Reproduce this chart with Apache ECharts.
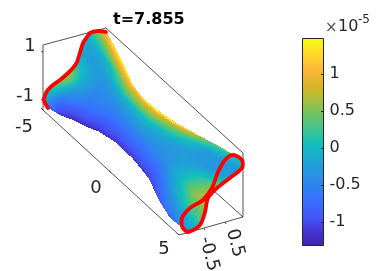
<!DOCTYPE html>
<html><head><meta charset="utf-8">
<style>html,body{margin:0;padding:0;background:#fff}#c{width:388px;height:271px}</style>
<script src="https://cdn.jsdelivr.net/npm/echarts@6/dist/echarts.min.js"></script>
</head><body><div id="c"></div>
<script>
// ---------- data (projected view coordinates) ----------
const titleText = 't=7.855';
const lowerEdge = [[48,108],[60,115],[73,120],[87,127],[100,132],[117,142],[133,157],[147,175],[160,202],[170,218],[182,227]];
const upperEdge = [[106,32],[115,47],[123,63],[133,85],[143,100],[157,112],[173,123],[197,135],[217,145],[233,155]];
const leftCurve = [[48,108],[45,103],[44,99],[47,91],[53,85],[60,80],[67,74],[73,68],[77,62],[79,56],[83,43],[87,37],[90,33],[98,31],[106,32]];
const rightCurve = [[182,227],[188,232],[200,225],[205,212],[208,198],[217,188],[230,178],[242,168],[242,160],[233,155]];
const rightLoopBack = [[233,155],[225,160],[218,172],[212,188],[203,200],[190,208],[182,218],[182,227]];
const stationS = [0,0.08,0.18,0.32,0.5,0.68,0.82,0.92,1];
const rowT = [0,0.12,0.25,0.4,0.55,0.68,0.8,0.9,1];
const surfaceValues = [
 [-0.8,0,0.35,0.75,0.1,-0.15,-0.1,0.3,1.05],
 [-1.15,-0.85,-0.4,-0.1,-0.1,-0.3,-0.15,0.5,1.4],
 [-1.25,-1.0,-0.7,-0.5,-0.4,-0.25,0,0.85,1.47],
 [-1.3,-1.05,-0.85,-0.6,-0.35,-0.05,0.55,1.15,1.47],
 [-1.3,-1.05,-0.8,-0.55,-0.2,0.05,0.7,1.2,1.47],
 [-1.2,-0.95,-0.7,-0.45,-0.35,-0.15,0.25,0.95,1.4],
 [-1.05,-0.55,-0.1,0,-0.15,-0.35,-0.25,0.3,1.2],
 [-0.95,-0.35,0.2,0.55,0.2,-0.3,-0.3,0.2,1.05],
 [-0.7,-0.1,0.35,0.75,0.6,-0.15,-0.35,0,0.9]
];
const boxFront = [[[43,45],[106,28]],[[106,28],[243,153]],[[243,153],[243,217]],[[243,217],[179,235]],[[179,235],[43,110]],[[43,110],[43,45]]];
const boxBack = [[[106,94],[243,217]]];
const axisTicks = [[[43,52],[41,51.5]],[[43,100],[41,99.5]],[[43,110],[41,108]],[[111,172.5],[109,171]],[[179,235],[177,233]],[[204,228],[205,230]],[[225,222],[226,224]]];
const axisLabels = [['1',30,46,0],['-1',25,96,0],['-5',24,127,0],['0',96,188,0],['5',164,249,0],['-0.5',209,254,-75],['0.5',235,243,-75]];
const cbarMin = -1.324, cbarMax = 1.473;
const cbarTicks = [-1,-0.5,0,0.5,1];
const cbarExponent = '-5';
const cmapValues = [-1.324,-1.15,-0.95,-0.7,-0.4,-0.15,0.05,0.2,0.45,0.65,0.8,1.05,1.25,1.473];
const cmapColors = ['#3e26a8','#4331d0','#4455f8','#3672ff','#2a8ee6','#1ca7d0','#0fbfbd','#38c39b','#6fc460','#a9bf3c','#d4b528','#ffb63b','#fdd827','#f9fb15'];

// ---------- helpers ----------
function rgb(h){return [1,3,5].map(i=>parseInt(h.substr(i,2),16));}
const cmapRGB = cmapColors.map(rgb);
function colorRGB(v){
  v=Math.max(cbarMin,Math.min(cbarMax,v));
  let i=0; while(i<cmapValues.length-2 && v>cmapValues[i+1]) i++;
  const f=(v-cmapValues[i])/(cmapValues[i+1]-cmapValues[i]);
  return cmapRGB[i].map((a,k)=>Math.round(a+(cmapRGB[i+1][k]-a)*f));
}
function arcParam(pts){
  const d=[0]; for(let i=1;i<pts.length;i++) d.push(d[i-1]+Math.hypot(pts[i][0]-pts[i-1][0],pts[i][1]-pts[i-1][1]));
  return p=>{const L=p*d[d.length-1]; let i=0; while(i<d.length-2&&L>d[i+1]) i++;
    const f=(L-d[i])/((d[i+1]-d[i])||1); return [pts[i][0]+(pts[i+1][0]-pts[i][0])*f,pts[i][1]+(pts[i+1][1]-pts[i][1])*f];};
}
function lerpIdx(arr,x){let i=0; while(i<arr.length-2&&x>arr[i+1]) i++; return [i,(x-arr[i])/(arr[i+1]-arr[i])];}
const NS=150,NT=70;
function buildMesh(){
  const L=arcParam(lowerEdge),U=arcParam(upperEdge),A=arcParam(leftCurve),B=arcParam(rightCurve);
  const P=[],V=[];
  const a00=lowerEdge[0],a10=lowerEdge[lowerEdge.length-1],a01=upperEdge[0],a11=upperEdge[upperEdge.length-1];
  for(let i=0;i<=NS;i++){const s=i/NS;const lp=L(s),up=U(s);const rp=[],rv=[];
    const [ci,cf]=lerpIdx(stationS,s);
    for(let j=0;j<=NT;j++){const t=j/NT;const ap=A(t),bp=B(t);
      const q=[0,1].map(k=>(1-t)*lp[k]+t*up[k]+(1-s)*ap[k]+s*bp[k]-((1-s)*(1-t)*a00[k]+s*(1-t)*a10[k]+(1-s)*t*a01[k]+s*t*a11[k]));
      rp.push(q);
      const [ri,rf]=lerpIdx(rowT,t);
      const m=surfaceValues;
      rv.push((1-cf)*((1-rf)*m[ci][ri]+rf*m[ci][ri+1])+cf*((1-rf)*m[ci+1][ri]+rf*m[ci+1][ri+1]));
    }
    P.push(rp);V.push(rv);
  }
  for(let it=0;it<3;it++){
    const W=V.map(r=>r.slice());
    for(let i=0;i<=NS;i++)for(let j=0;j<=NT;j++){
      const a=Math.max(i-1,0),b=Math.min(i+1,NS),c=Math.max(j-1,0),d=Math.min(j+1,NT);
      W[i][j]=(V[i][j]*2+V[a][j]+V[b][j]+V[i][c]+V[i][d])/6;
    }
    for(let i=0;i<=NS;i++)V[i]=W[i];
  }
  return {P,V};
}
const mesh=buildMesh();
const TEXT='#262626', FONT='"DejaVu Sans"';

// Gouraud-style rasterisation of the mesh, the way "shading interp" paints a surface
function rasterSurface(co,w,h){
  const cv=document.createElement('canvas');cv.width=w;cv.height=h;
  const ctx=cv.getContext('2d'),img=ctx.createImageData(w,h),D=img.data;
  function tri(a,b,c,va,vb,vc){
    const x0=Math.floor(Math.min(a[0],b[0],c[0])),x1=Math.ceil(Math.max(a[0],b[0],c[0]));
    const y0=Math.floor(Math.min(a[1],b[1],c[1])),y1=Math.ceil(Math.max(a[1],b[1],c[1]));
    const den=(b[1]-c[1])*(a[0]-c[0])+(c[0]-b[0])*(a[1]-c[1]); if(Math.abs(den)<1e-9) return;
    for(let y=y0;y<=y1;y++)for(let x=x0;x<=x1;x++){
      if(x<0||y<0||x>=w||y>=h) continue;
      const px=x+0.5,py=y+0.5;
      const l1=((b[1]-c[1])*(px-c[0])+(c[0]-b[0])*(py-c[1]))/den;
      const l2=((c[1]-a[1])*(px-c[0])+(a[0]-c[0])*(py-c[1]))/den;
      const l3=1-l1-l2;
      if(l1<-1e-6||l2<-1e-6||l3<-1e-6) continue;
      const col=colorRGB(l1*va+l2*vb+l3*vc),k=(y*w+x)*4;
      D[k]=col[0];D[k+1]=col[1];D[k+2]=col[2];D[k+3]=255;
    }
  }
  for(let i=0;i<NS;i++)for(let j=0;j<NT;j++){
    const a=co(mesh.P[i][j]),b=co(mesh.P[i+1][j]),c=co(mesh.P[i+1][j+1]),d=co(mesh.P[i][j+1]);
    const va=mesh.V[i][j],vb=mesh.V[i+1][j],vc=mesh.V[i+1][j+1],vd=mesh.V[i][j+1];
    tri(a,b,c,va,vb,vc);tri(a,c,d,va,vc,vd);
  }
  ctx.putImageData(img,0,0);
  return cv;
}
function renderSurface(params,api){
  const co=p=>api.coord(p);
  const kids=[];
  const line=(a,b,w,col)=>kids.push({type:'line',shape:{x1:co(a)[0],y1:co(a)[1],x2:co(b)[0],y2:co(b)[1]},style:{stroke:col||TEXT,lineWidth:w||0.8}});
  boxBack.forEach(e=>line(e[0],e[1]));
  const org=co([0,0]),far=co([388,271]);
  kids.push({type:'image',style:{image:rasterSurface(co,Math.round(far[0]-org[0]),Math.round(far[1]-org[1])),x:org[0],y:org[1]}});
  boxFront.forEach(e=>line(e[0],e[1]));
  axisTicks.forEach(e=>line(e[0],e[1]));
  kids.push({type:'polyline',shape:{points:leftCurve.map(co),smooth:0.2},style:{stroke:'#ff0000',lineWidth:3.8,fill:null,lineJoin:'round',lineCap:'round'}});
  const loop=rightCurve.concat(rightLoopBack.slice(1)).map(co);
  kids.push({type:'polyline',shape:{points:loop,smooth:0.3},style:{stroke:'#ff0000',lineWidth:3.8,fill:null,lineJoin:'round'}});
  axisLabels.forEach(l=>{const p=co([l[1],l[2]]);
    kids.push({type:'text',x:p[0],y:p[1],rotation:l[3]*Math.PI/180,style:{text:l[0],fill:TEXT,font:'18px '+FONT,align:'center',verticalAlign:'middle'}});});
  return {type:'group',children:kids};
}
function renderCbar(params,api){
  const kids=[],x0=api.coord([0,cbarMin])[0],x1=api.coord([1,cbarMin])[0];
  const yt=api.coord([0,cbarMax])[1],yb=api.coord([0,cbarMin])[1];
  const stops=cmapValues.map((v,i)=>({offset:(v-cbarMin)/(cbarMax-cbarMin),color:cmapColors[i]}));
  kids.push({type:'rect',shape:{x:x0,y:yt,width:x1-x0,height:yb-yt},
    style:{fill:new echarts.graphic.LinearGradient(0,1,0,0,stops),stroke:TEXT,lineWidth:1}});
  cbarTicks.forEach(v=>{const y=Math.round(api.coord([0,v])[1])+0.5;kids.push({type:'line',shape:{x1:x1-2.5,y1:y,x2:x1,y2:y},style:{stroke:TEXT,lineWidth:1}});});
  return {type:'group',children:kids};
}
const chart=echarts.init(document.getElementById('c'),null,{renderer:'canvas'});
chart.setOption({
  animation:false,backgroundColor:'#fff',
  title:{text:titleText,left:108,top:7,textStyle:{fontFamily:FONT,fontWeight:'bold',fontSize:16,color:'#000'}},
  grid:[{left:0,top:0,width:388,height:271},{left:302.5,top:38.5,width:21,height:207}],
  xAxis:[{type:'value',gridIndex:0,min:0,max:388,show:false},{type:'value',gridIndex:1,min:0,max:1,show:false}],
  yAxis:[{type:'value',gridIndex:0,min:0,max:271,inverse:true,show:false},
    {type:'value',gridIndex:1,min:cbarMin,max:cbarMax,position:'right',
     axisLine:{show:false},splitLine:{show:false},axisTick:{show:false},
     axisLabel:{show:true,customValues:cbarTicks,margin:6,color:TEXT,fontFamily:FONT,fontSize:16,formatter:v=>String(v)}}],
  graphic:[
    {type:'text',left:325,top:21,style:{text:'×',fill:'#555',font:'15px '+FONT}},
    {type:'text',left:338,top:19,style:{text:'10',fill:TEXT,font:'16px '+FONT}},
    {type:'text',left:358,top:14,style:{text:cbarExponent,fill:TEXT,font:'12px '+FONT}}
  ],
  series:[
    {type:'custom',coordinateSystem:'cartesian2d',xAxisIndex:0,yAxisIndex:0,clip:false,silent:true,data:[[0,0]],renderItem:renderSurface},
    {type:'custom',coordinateSystem:'cartesian2d',xAxisIndex:1,yAxisIndex:1,clip:false,silent:true,data:[[0,0]],renderItem:renderCbar}
  ]
});
</script></body></html>
